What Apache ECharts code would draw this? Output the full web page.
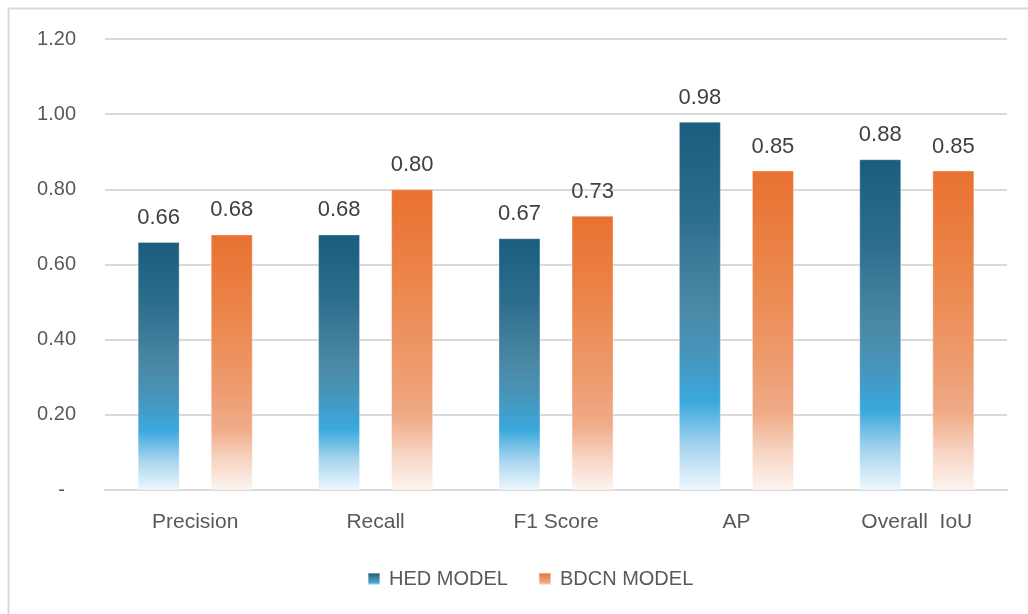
<!DOCTYPE html>
<html>
<head>
<meta charset="utf-8">
<script src="https://cdn.jsdelivr.net/npm/echarts@6/dist/echarts.min.js"></script>
<style>
  html, body { margin: 0; padding: 0; background: #ffffff; }
  #chart { width: 1028px; height: 614px; }
</style>
</head>
<body>
<div id="chart"></div>
<script>
// Metric categories and model scores
const categories = ['Precision', 'Recall', 'F1 Score', 'AP', 'Overall  IoU'];
const hedScores = [0.66, 0.68, 0.67, 0.98, 0.88];
const bdcnScores = [0.68, 0.80, 0.73, 0.85, 0.85];
const seriesNames = ['HED MODEL', 'BDCN MODEL'];

const FONT = '"Liberation Sans", Arial, sans-serif';

function vGrad(stops) {
  return new echarts.graphic.LinearGradient(0, 0, 0, 1,
    stops.map(s => ({ offset: s[0], color: s[1] })));
}

const hedFill = vGrad([
  [0, '#1a5d7e'],
  [0.25, '#2d6d8c'],
  [0.5, '#4b88a5'],
  [0.62, '#4794b9'],
  [0.76, '#3aa8dd'],
  [0.88, '#a6d4ee'],
  [1, '#eef7fd']
]);
const bdcnFill = vGrad([
  [0, '#e97131'],
  [0.3, '#eb8549'],
  [0.6, '#ee9b6e'],
  [0.76, '#f0ab88'],
  [0.88, '#f7d4c2'],
  [1, '#fdf4ef']
]);

const chart = echarts.init(document.getElementById('chart'), null, { renderer: 'canvas' });

const labelStyle = {
  show: true,
  position: 'top',
  distance: 13,
  fontFamily: FONT,
  fontSize: 22,
  color: '#404040',
  formatter: p => p.value.toFixed(2)
};

chart.setOption({
  animation: false,
  backgroundColor: '#ffffff',
  graphic: [{
    type: 'rect',
    shape: { x: 8.5, y: 8.5, width: 1060, height: 660 },
    style: { fill: 'none', stroke: '#d9d9d9', lineWidth: 2 },
    silent: true
  }],
  grid: { left: 105, right: 21, top: 39, bottom: 124 },
  legend: {
    top: 564,
    left: 362,
    itemWidth: 12,
    itemHeight: 12,
    itemGap: 30,
    icon: 'rect',
    textStyle: { fontFamily: FONT, fontSize: 20, color: '#595959', padding: [0, 0, 0, 4] },
    data: seriesNames
  },
  xAxis: {
    type: 'category',
    data: categories,
    axisLine: { show: true, lineStyle: { color: '#d9d9d9', width: 2 } },
    axisTick: { show: false },
    axisLabel: { fontFamily: FONT, fontSize: 21, color: '#595959', margin: 22 }
  },
  yAxis: {
    type: 'value',
    min: 0,
    max: 1.2,
    interval: 0.2,
    axisLine: { show: false },
    axisTick: { show: false },
    splitLine: { lineStyle: { color: '#d9d9d9', width: 2 } },
    axisLabel: {
      fontFamily: FONT,
      fontSize: 20,
      color: '#595959',
      margin: 29,
      formatter: v => v === 0 ? '-  ' : v.toFixed(2)
    }
  },
  series: [
    {
      name: seriesNames[0],
      type: 'bar',
      data: hedScores,
      barWidth: 42,
      barGap: '74%',
      itemStyle: { color: hedFill, borderColor: 'rgba(255,255,255,0.35)', borderWidth: 1 },
      label: labelStyle
    },
    {
      name: seriesNames[1],
      type: 'bar',
      data: bdcnScores,
      barWidth: 42,
      itemStyle: { color: bdcnFill, borderColor: 'rgba(255,255,255,0.35)', borderWidth: 1 },
      label: labelStyle
    }
  ]
});
</script>
</body>
</html>
